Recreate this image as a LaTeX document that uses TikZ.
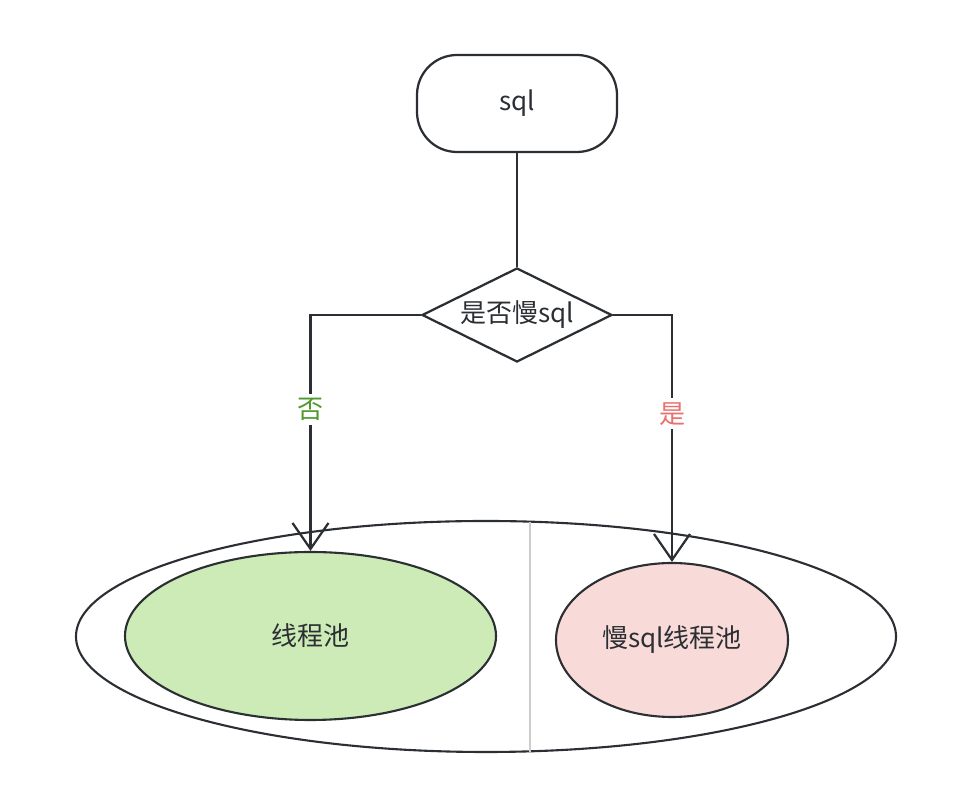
\documentclass[tikz,border=0pt]{standalone}
\usepackage{fontspec}
\setmainfont{Noto Sans CJK SC}
\usepackage{tikz}
\usetikzlibrary{arrows.meta,positioning,shapes.geometric}

\definecolor{ink}{HTML}{2B2F33}
\definecolor{poolgreen}{HTML}{CDEBB6}
\definecolor{poolpink}{HTML}{F8DBD9}
\definecolor{nogreen}{HTML}{4E9A2C}
\definecolor{yesred}{HTML}{E8706E}

\begin{document}
\begin{tikzpicture}[
  font=\fontsize{18.5}{22}\selectfont,
  text=ink,
  term/.style={draw=ink, line width=1.6pt, rounded corners=1cm, minimum width=5cm, minimum height=2.425cm},
  decide/.style={draw=ink, diamond, aspect=2, line width=1.6pt, inner sep=0pt, minimum width=4.75cm, minimum height=2.35cm},
  pool/.style={draw=ink, ellipse, line width=1.5pt, inner sep=0pt},
  arr/.style={-{Straight Barb[length=0.65cm, width=0.9cm, line width=1.6pt]}, draw=ink, line width=1.6pt},
  lbl/.style={fill=white, inner sep=3pt}
]
\useasboundingbox (0,0) rectangle (24.35,19.95);
\node[term] (sql) at (12.925,17.3625) {sql};
\node[decide] (slow) at (12.925,12.075) {是否慢sql};
\node[pool, minimum width=20.5cm, minimum height=5.775cm] (outer) at (12.15,4.0375) {};
\draw[black!20, line width=0.8pt] (13.25,6.9) -- (13.25,1.15);
\node[pool, fill=poolgreen, minimum width=9.275cm, minimum height=4.2cm] (pool) at (7.7625,4.05) {线程池};
\node[pool, fill=poolpink, minimum width=5.8cm, minimum height=3.85cm] (slowpool) at (16.8,3.95) {慢sql线程池};
\draw[draw=ink, line width=1.6pt] (sql) -- (slow);
\draw[arr] (slow.west) -| (pool.north) node[lbl, pos=0.7, text=nogreen] {否};
\draw[arr] (slow.east) -| (slowpool.north) node[lbl, pos=0.7, text=yesred] {是};
\end{tikzpicture}
\end{document}
